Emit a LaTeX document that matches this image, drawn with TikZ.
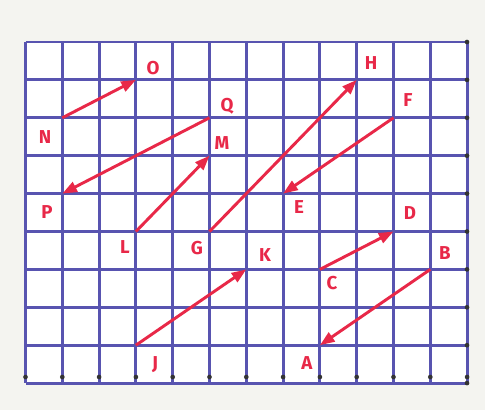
\documentclass[tikz,border=0pt]{standalone}
\usepackage{fontspec}
\setsansfont{Fira Sans}
\usetikzlibrary{arrows.meta}
\definecolor{paper}{RGB}{244,244,240}
\definecolor{gridblue}{RGB}{88,84,176}
\definecolor{penred}{RGB}{232,40,72}
\tikzset{
  gridline/.style={gridblue, line width=2.2pt},
  vec/.style={penred, line width=2.2pt, -{Triangle[length=11pt,width=8pt]}},
  lbl/.style={penred, font=\sffamily\bfseries\fontsize{14}{14}\selectfont, inner sep=0pt},
  gdot/.style={fill=black!80, circle, inner sep=0pt, minimum size=3.5pt}
}
\newcommand{\gx}[1]{25.5+36.8*#1}
\newcommand{\gy}[1]{42+37.9*#1}
\begin{document}
\begin{tikzpicture}[x=0.75pt,y=-0.75pt]
\fill[paper] (0,0) rectangle (485,410);
\useasboundingbox (0,0) rectangle (485,410);
\fill[white] (25.5,42) rectangle (467,383);
% grid
\foreach \c in {0,...,12} \draw[gridline] ({\gx{\c}},42) -- ({\gx{\c}},383);
\foreach \r in {0,...,9} \draw[gridline] (25.5,{\gy{\r}}) -- (467,{\gy{\r}});
\foreach \r in {0,...,9} \node[gdot] (rd\r) at (467,{\gy{\r}}) {};
\foreach \c in {0,...,12} \node[gdot] (bd\c) at ({\gx{\c}},377) {};
% points
\coordinate (N) at ({\gx{1}},{\gy{2}});
\coordinate (O) at ({\gx{3}},{\gy{1}});
\coordinate (Q) at ({\gx{5}},{\gy{2}});
\coordinate (P) at ({\gx{1}},{\gy{4}});
\coordinate (L) at ({\gx{3}},{\gy{5}});
\coordinate (M) at ({\gx{5}},{\gy{3}});
\coordinate (G) at ({\gx{5}},{\gy{5}});
\coordinate (H) at ({\gx{9}},{\gy{1}});
\coordinate (F) at ({\gx{10}},{\gy{2}});
\coordinate (E) at ({\gx{7}},{\gy{4}});
\coordinate (C) at ({\gx{8}},{\gy{6}});
\coordinate (D) at ({\gx{10}},{\gy{5}});
\coordinate (B) at ({\gx{11}},{\gy{6}});
\coordinate (A) at ({\gx{8}},{\gy{8}});
\coordinate (J) at ({\gx{3}},{\gy{8}});
\coordinate (K) at ({\gx{6}},{\gy{6}});
% vectors
\draw[vec] (N) -- (O);
\draw[vec] (Q) -- (P);
\draw[vec] (L) -- (M);
\draw[vec] (G) -- (H);
\draw[vec] (F) -- (E);
\draw[vec] (C) -- (D);
\draw[vec] (B) -- (A);
\draw[vec] (J) -- (K);
% labels
\node[lbl] (lO) at (153,68) {O};
\node[lbl] (lN) at (45,137) {N};
\node[lbl] (lQ) at (227,106) {Q};
\node[lbl] (lM) at (222,143) {M};
\node[lbl] (lP) at (47,212) {P};
\node[lbl] (lH) at (371,63) {H};
\node[lbl] (lF) at (408,100) {F};
\node[lbl] (lE) at (299,207) {E};
\node[lbl] (lL) at (125,247) {L};
\node[lbl] (lG) at (197,248) {G};
\node[lbl] (lD) at (410,213) {D};
\node[lbl] (lK) at (265,255) {K};
\node[lbl] (lB) at (445,253) {B};
\node[lbl] (lC) at (332,283) {C};
\node[lbl] (lA) at (307,363) {A};
\node[lbl] (lJ) at (155,365) {J};
\end{tikzpicture}
\end{document}
